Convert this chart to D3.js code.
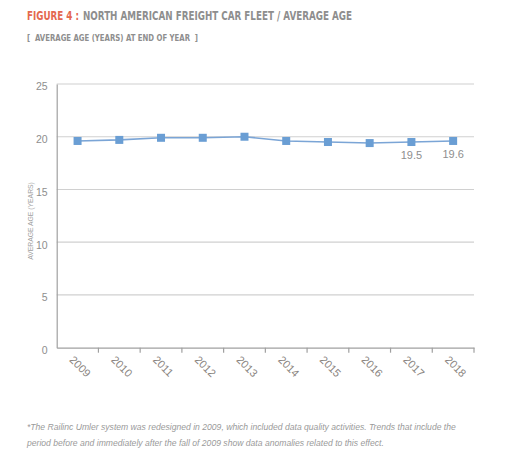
<!DOCTYPE html>
<html><head><meta charset="utf-8">
<script src="https://cdn.jsdelivr.net/npm/d3@7"></script>
<style>
body{margin:0;background:#fff;}
svg{display:block;}
</style></head>
<body>
<svg id="chart" width="531" height="468"></svg>
<script>
const years = ["2009","2010","2011","2012","2013","2014","2015","2016","2017","2018"];
const avgAge = [19.6, 19.7, 19.9, 19.9, 20.0, 19.6, 19.5, 19.4, 19.5, 19.6];
const yTicks = [0, 5, 10, 15, 20, 25];
const labelledYears = ["2017", "2018"];

const svg = d3.select("#chart");
const mLeft = 56.7, mRight = 474, mTop = 84, mBottom = 347.7;

const x = d3.scaleBand().domain(years).range([mLeft, mRight]);
const y = d3.scaleLinear().domain([0, 25]).range([mBottom, mTop]);

const condFont = "'DejaVu Sans Condensed','Liberation Sans Narrow',sans-serif";

// Titles
svg.append("text").attr("x", 27).attr("y", 20)
  .attr("textLength", 52).attr("lengthAdjust", "spacingAndGlyphs")
  .style("font-family", condFont)
  .style("font-size", "11.5px").style("font-weight", "bold")
  .attr("fill", "#E4684F").text("FIGURE 4 :");
svg.append("text").attr("x", 83).attr("y", 20)
  .attr("textLength", 269).attr("lengthAdjust", "spacingAndGlyphs")
  .style("font-family", condFont)
  .style("font-size", "11.5px").style("font-weight", "bold")
  .attr("fill", "#8E8E8E").text("NORTH AMERICAN FREIGHT CAR FLEET / AVERAGE AGE");

svg.append("text").attr("x", 27).attr("y", 41)
  .attr("textLength", 171).attr("lengthAdjust", "spacingAndGlyphs")
  .style("font-family", condFont)
  .style("font-size", "8.5px").style("font-weight", "bold").attr("fill", "#8E8E8E")
  .attr("xml:space", "preserve")
  .text("[  AVERAGE AGE (YEARS) AT END OF YEAR  ]");

// Gridlines
svg.append("g").selectAll("line").data(yTicks.filter(d => d > 0)).join("line")
  .attr("x1", mLeft).attr("x2", mRight)
  .attr("y1", d => y(d)).attr("y2", d => y(d))
  .attr("stroke", "#D0D0D0").attr("stroke-width", 1.2);

// Y axis
const yAxis = svg.append("g").attr("transform", `translate(${mLeft},0)`)
  .call(d3.axisLeft(y).tickValues(yTicks).tickSize(0).tickPadding(9));
yAxis.select(".domain").attr("stroke", "#A0A0A0").attr("stroke-width", 1.2);
yAxis.selectAll("text").attr("fill", "#8E8E8E")
  .style("font-family", "'Liberation Sans',Arial,sans-serif").style("font-size", "10.5px")
  .attr("dy", "0.55em");

// X axis
const xAxis = svg.append("g").attr("transform", `translate(0,${mBottom})`)
  .call(d3.axisBottom(x).tickSize(0).tickFormat(""));
xAxis.select(".domain").attr("stroke", "#A0A0A0").attr("stroke-width", 1.2);
xAxis.selectAll(".tick").remove();
xAxis.selectAll("line.bt").data(years).join("line").attr("class", "bt")
  .attr("x1", d => x(d) + x.bandwidth()).attr("x2", d => x(d) + x.bandwidth())
  .attr("y1", 0).attr("y2", 5).attr("stroke", "#A0A0A0").attr("stroke-width", 1.2);
xAxis.selectAll("text.yl").data(years).join("text").attr("class", "yl")
  .attr("transform", d => `translate(${x(d) + x.bandwidth()/2 - 3},${7}) rotate(45)`)
  .attr("dy", "0.75em")
  .attr("text-anchor", "start")
  .attr("fill", "#8A8480")
  .style("font-family", "'Liberation Sans',Arial,sans-serif").style("font-size", "11px")
  .text(d => d);

// Y axis title
svg.append("text")
  .attr("transform", `translate(33,221) rotate(-90)`)
  .attr("text-anchor", "middle")
  .attr("fill", "#A0A0A0")
  .style("font-family", "'Liberation Sans',Arial,sans-serif").style("font-size", "6.8px")
  .text("AVERAGE AGE (YEARS)");

// Line
const data = years.map((d, i) => ({year: d, v: avgAge[i]}));
svg.append("path").datum(data)
  .attr("fill", "none").attr("stroke", "#7BA5D6").attr("stroke-width", 1.6)
  .attr("d", d3.line().x(d => x(d.year) + x.bandwidth()/2).y(d => y(d.v)));

svg.append("g").selectAll("rect").data(data).join("rect")
  .attr("x", d => x(d.year) + x.bandwidth()/2 - 4)
  .attr("y", d => y(d.v) - 4)
  .attr("width", 8).attr("height", 8)
  .attr("fill", "#6A9ED4");

// Data labels
svg.append("g").selectAll("text").data(data.filter(d => labelledYears.includes(d.year))).join("text")
  .attr("x", d => x(d.year) + x.bandwidth()/2)
  .attr("y", d => y(d.v) + 17)
  .attr("text-anchor", "middle")
  .attr("fill", "#8E8E8E")
  .style("font-family", "'Liberation Sans',Arial,sans-serif").style("font-size", "11px")
  .text(d => d.v.toFixed(1));

// Footnote
const fn = svg.append("text").attr("fill", "#9A9A9A")
  .style("font-family", "'Liberation Sans',Arial,sans-serif").style("font-size", "8.6px")
  .style("font-style", "italic");
fn.append("tspan").attr("x", 27).attr("y", 430)
  .text("*The Railinc Umler system was redesigned in 2009, which included data quality activities. Trends that include the");
fn.append("tspan").attr("x", 27).attr("y", 446)
  .text("period before and immediately after the fall of 2009 show data anomalies related to this effect.");
</script>
</body></html>
